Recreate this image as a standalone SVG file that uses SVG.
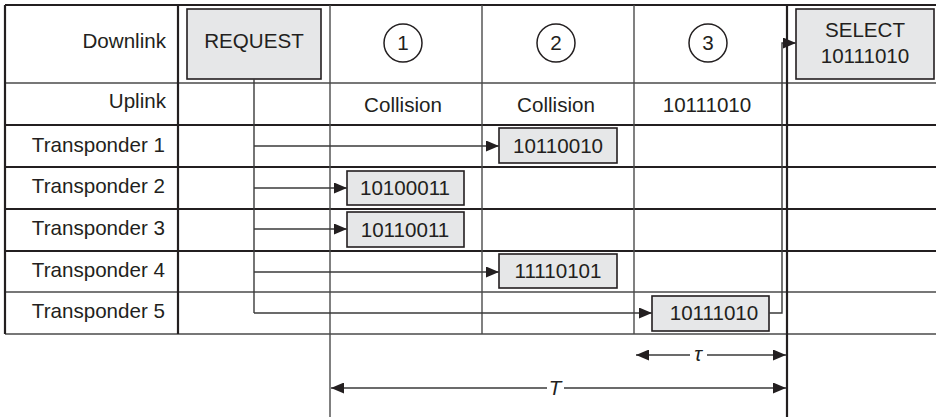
<svg xmlns="http://www.w3.org/2000/svg" width="936" height="417" viewBox="0 0 936 417">
<style>
text{font-family:"Liberation Sans",Arial,sans-serif;font-size:20.6px;fill:#231f20}
.r{text-anchor:end}
.m{text-anchor:middle}
.thick{stroke:#231f20;stroke-width:2.2;fill:none}
.thin{stroke:#4a4a4a;stroke-width:1.4;fill:none}
.box{fill:#e6e7e8;stroke:#231f20;stroke-width:1.6}
.circ{fill:#fff;stroke:#231f20;stroke-width:1.5}
.con{stroke:#3a3a3a;stroke-width:1.4;fill:none}
.it{font-style:italic}
</style>
<defs>
<marker id="ah" viewBox="0 0 13 11" refX="13" refY="5.5" markerWidth="13" markerHeight="11" markerUnits="userSpaceOnUse" orient="auto-start-reverse">
<path d="M0,0 L13,5.5 L0,11 z" fill="#231f20"/>
</marker>
</defs>
<rect width="936" height="417" fill="#fff"/>
<g id="grid">
<line class="thick" x1="5" y1="5" x2="936" y2="5"/>
<line class="thin" x1="5" y1="83" x2="936" y2="83"/>
<line class="thick" x1="5" y1="125" x2="936" y2="125"/>
<line class="thick" x1="5" y1="167" x2="936" y2="167"/>
<line class="thick" x1="5" y1="209" x2="936" y2="209"/>
<line class="thick" x1="5" y1="251" x2="936" y2="251"/>
<line class="thin" x1="5" y1="292" x2="936" y2="292"/>
<line class="thin" x1="5" y1="334" x2="936" y2="334"/>
<line class="thick" x1="5" y1="5" x2="5" y2="334"/>
<line class="thick" x1="178" y1="5" x2="178" y2="334"/>
<line class="thin" x1="330" y1="5" x2="330" y2="417"/>
<line class="thin" x1="482" y1="5" x2="482" y2="334"/>
<line class="thin" x1="634" y1="5" x2="634" y2="334"/>
<line class="thick" x1="787" y1="5" x2="787" y2="417"/>
</g>
<g id="row-labels">
<text class="r" x="166" y="48">Downlink</text>
<text class="r" x="166" y="108">Uplink</text>
<text class="r" x="165" y="152">Transponder 1</text>
<text class="r" x="165" y="193">Transponder 2</text>
<text class="r" x="165" y="235">Transponder 3</text>
<text class="r" x="165" y="277">Transponder 4</text>
<text class="r" x="165" y="318">Transponder 5</text>
</g>
<g id="uplink-values">
<text class="m" x="403" y="112">Collision</text>
<text class="m" x="556" y="112">Collision</text>
<text class="m" x="707" y="112">10111010</text>
</g>
<g id="request">
<rect class="box" x="187" y="9" width="134" height="70"/>
<text class="m" x="254" y="48">REQUEST</text>
</g>
<g id="slot1">
<circle class="circ" cx="403" cy="43" r="19"/>
<text class="m" x="403" y="50">1</text>
</g>
<g id="slot2">
<circle class="circ" cx="556" cy="43" r="19"/>
<text class="m" x="556" y="50">2</text>
</g>
<g id="slot3">
<circle class="circ" cx="708" cy="43" r="19"/>
<text class="m" x="708" y="50">3</text>
</g>
<g id="select">
<rect class="box" x="796" y="9" width="138" height="70"/>
<text class="m" x="865" y="37">SELECT</text>
<text class="m" x="865" y="63">10111010</text>
</g>
<g id="t1-reply">
<rect class="box" x="499" y="128" width="118" height="35"/>
<text class="m" x="558" y="153">10110010</text>
</g>
<g id="t2-reply">
<rect class="box" x="347" y="171" width="117" height="34"/>
<text class="m" x="405" y="195">10100011</text>
</g>
<g id="t3-reply">
<rect class="box" x="347" y="212" width="117" height="35"/>
<text class="m" x="405" y="237">10110011</text>
</g>
<g id="t4-reply">
<rect class="box" x="499" y="254" width="118" height="34"/>
<text class="m" x="558" y="278">11110101</text>
</g>
<g id="t5-reply">
<rect class="box" x="652" y="296" width="117" height="35"/>
<text class="m" x="714" y="320">10111010</text>
</g>
<g id="connectors">
<polyline class="con" points="254,79 254,313"/>
<line class="con" x1="254" y1="146" x2="499" y2="146" marker-end="url(#ah)"/>
<line class="con" x1="254" y1="188" x2="347" y2="188" marker-end="url(#ah)"/>
<line class="con" x1="254" y1="229" x2="347" y2="229" marker-end="url(#ah)"/>
<line class="con" x1="254" y1="272" x2="499" y2="272" marker-end="url(#ah)"/>
<line class="con" x1="254" y1="313" x2="652" y2="313" marker-end="url(#ah)"/>
<polyline class="con" points="769,313 782,313 782,43 796,43" marker-end="url(#ah)"/>
</g>
<g id="dimensions">
<line class="con" x1="636" y1="355" x2="690" y2="355" marker-start="url(#ah)"/>
<line class="con" x1="707" y1="355" x2="786" y2="355" marker-end="url(#ah)"/>
<text class="m it" x="698" y="361">τ</text>
<line class="con" x1="331" y1="388" x2="547" y2="388" marker-start="url(#ah)"/>
<line class="con" x1="564" y1="388" x2="786" y2="388" marker-end="url(#ah)"/>
<text class="m it" x="555" y="395">T</text>
</g>
</svg>
